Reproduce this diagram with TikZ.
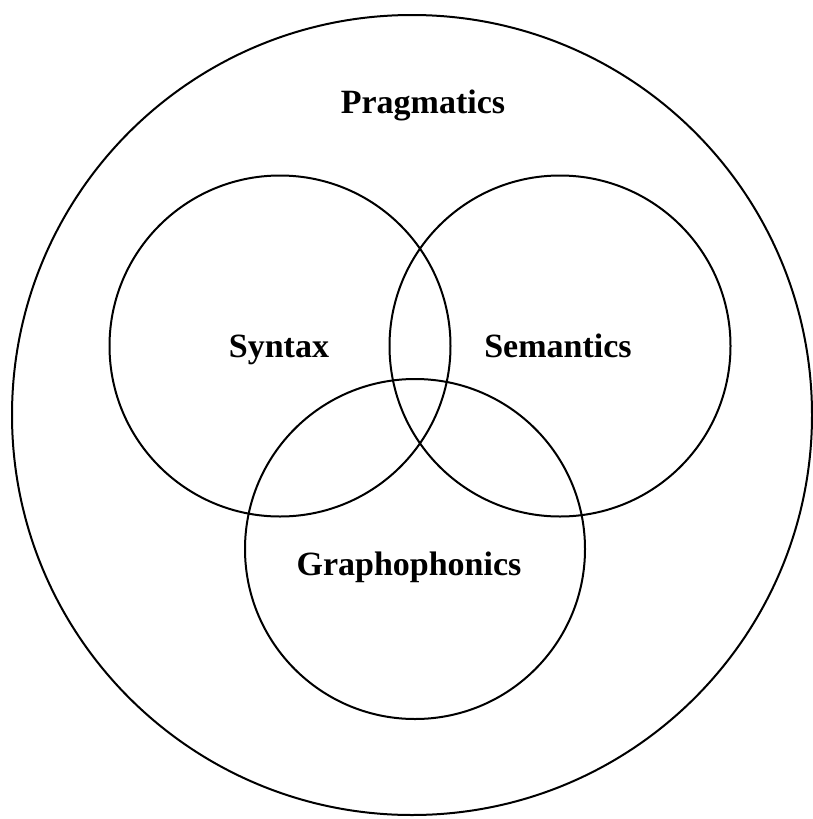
\documentclass[tikz,border=0pt]{standalone}
\usepackage{fontspec}
\setmainfont{Liberation Serif}
\begin{document}
\begin{tikzpicture}[x=1pt,y=-1pt,
  ring/.style={circle,draw=black,line width=2pt,inner sep=0pt,outer sep=0pt},
  lbl/.style={font=\fontsize{34}{40}\selectfont\bfseries,inner sep=0pt,anchor=base}]
\useasboundingbox (0,0) rectangle (812,819);
\node[ring,minimum size=800pt] (prag) at (412,415) {};
\node[ring,minimum size=341pt] (syn) at (280,346) {};
\node[ring,minimum size=341pt] (sem) at (560,346) {};
\node[ring,minimum size=340pt] (gra) at (415,549) {};
\node[lbl] (tprag) at (423,113) {Pragmatics};
\node[lbl] (tsyn) at (279,357) {Syntax};
\node[lbl] (tsem) at (558,357) {Semantics};
\node[lbl] (tgra) at (409,575) {Graphophonics};
\end{tikzpicture}
\end{document}
